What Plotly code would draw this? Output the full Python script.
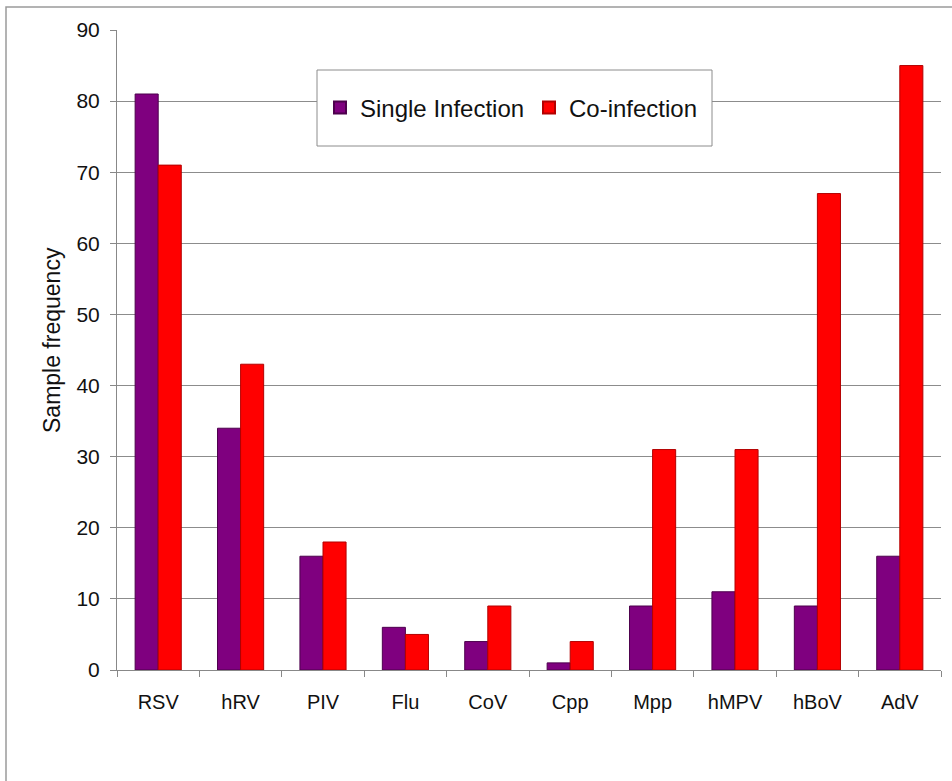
import plotly.graph_objects as go

categories = ["RSV", "hRV", "PIV", "Flu", "CoV", "Cpp", "Mpp", "hMPV", "hBoV", "AdV"]
single_infection = [81, 34, 16, 6, 4, 1, 9, 11, 9, 16]
co_infection = [71, 43, 18, 5, 9, 4, 31, 31, 67, 85]
y_ticks = [0, 10, 20, 30, 40, 50, 60, 70, 80, 90]

W, H = 952, 781
ML, MR, MT, MB = 117, 11, 30, 111
PW, PH = W - ML - MR, H - MT - MB

def px_x(x):
    return (x - ML) / PW

def px_y(y):
    return (H - MB - y) / PH

FONT = "Liberation Sans, Arial, sans-serif"

fig = go.Figure()
fig.add_trace(go.Bar(
    x=categories, y=single_infection, name="Single Infection",
    marker=dict(color="#7f007f", line=dict(color="#4d004d", width=1)),
))
fig.add_trace(go.Bar(
    x=categories, y=co_infection, name="Co-infection",
    marker=dict(color="#ff0000", line=dict(color="#b30000", width=1)),
))

fig.update_layout(
    width=W, height=H,
    margin=dict(l=ML, r=MR, t=MT, b=MB, autoexpand=False),
    paper_bgcolor="white", plot_bgcolor="white",
    barmode="group", bargap=0.44, bargroupgap=0,
    font=dict(family=FONT, color="#111111", size=20),
    showlegend=True,
    legend=dict(
        orientation="h", x=px_x(320), y=px_y(108), xanchor="left", yanchor="middle",
        bgcolor="rgba(0,0,0,0)", borderwidth=0,
        font=dict(family=FONT, size=24, color="#111111"),
        entrywidth=164, entrywidthmode="pixels", itemsizing="constant",
    ),
    xaxis=dict(
        showline=True, linecolor="#888888", linewidth=1,
        ticks="outside", tickson="boundaries", ticklen=6, tickcolor="#888888",
        tickfont=dict(size=20), showgrid=False, ticklabelstandoff=14,
    ),
    yaxis=dict(
        range=[0, 90], tickvals=y_ticks, showline=True, linecolor="#888888", linewidth=1,
        ticks="outside", ticklen=6, tickcolor="#888888",
        showgrid=True, gridcolor="#8c8c8c", gridwidth=1, zeroline=False,
        tickfont=dict(size=21), ticklabelstandoff=6,
    ),
    shapes=[
        dict(type="rect", xref="paper", yref="paper",
             x0=px_x(6), x1=px_x(970), y0=px_y(800), y1=px_y(7),
             line=dict(color="#9a9a9a", width=1.5), fillcolor="rgba(0,0,0,0)", layer="below"),
        dict(type="rect", xref="paper", yref="paper",
             x0=px_x(317), x1=px_x(712), y0=px_y(146), y1=px_y(70),
             line=dict(color="#8c8c8c", width=1), fillcolor="white", layer="above"),
    ],
    annotations=[
        dict(text="Sample frequency", xref="paper", yref="paper",
             x=px_x(52), y=px_y(340), xanchor="center", yanchor="middle",
             textangle=-90, showarrow=False, font=dict(size=23, family=FONT, color="#111111")),
    ],
)

fig.write_html(
    "out.html",
    config={"displayModeBar": False},
    post_script="document.body.style.margin='0';document.body.style.overflow='hidden';",
)
